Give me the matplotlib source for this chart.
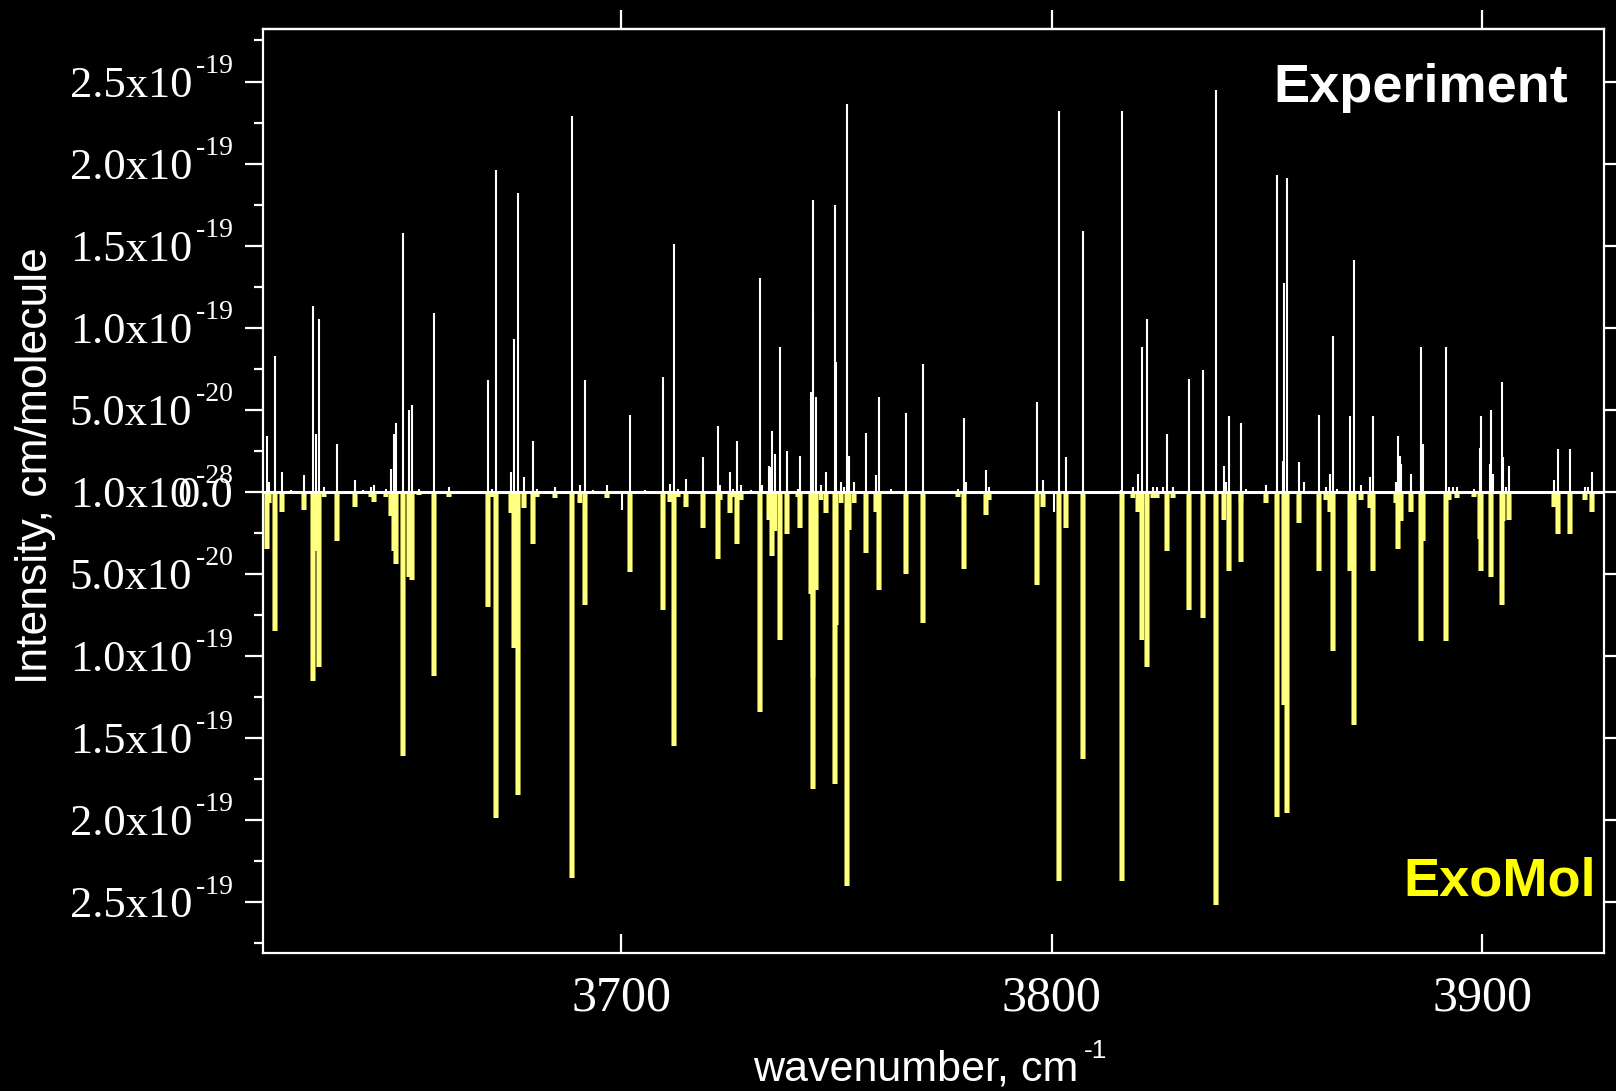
import matplotlib
matplotlib.use("Agg")
import matplotlib.pyplot as plt
import matplotlib.ticker as mticker
from matplotlib.transforms import blended_transform_factory, offset_copy
import numpy as np

# line positions (cm-1) and intensities (units of 1e-19 cm/molecule)
nu = [3617.7, 3618.0, 3619.6, 3621.2, 3623.2, 3626.3, 3628.4, 3629.1, 3629.7, 3630.9,
      3633.9, 3638.1, 3639.9, 3641.8, 3642.6, 3645.3, 3646.4, 3647.1, 3647.6, 3649.3,
      3650.6, 3651.4, 3652.9, 3656.4, 3660.0, 3668.9, 3670.0, 3670.8, 3674.3, 3675.0,
      3676.0, 3677.4, 3679.4, 3680.4, 3684.6, 3688.6, 3690.4, 3691.5, 3693.4, 3696.6,
      3700.1, 3701.9, 3705.5, 3709.6, 3711.2, 3712.3, 3713.1, 3714.9, 3719.0, 3722.4,
      3722.9, 3725.1, 3725.8, 3726.8, 3727.8, 3730.2, 3732.3, 3732.7, 3734.2, 3734.6,
      3735.0, 3735.7, 3736.9, 3738.5, 3740.9, 3741.5, 3744.0, 3744.4, 3744.6, 3745.1,
      3746.4, 3747.5, 3749.5, 3749.8, 3751.1, 3751.6, 3752.3, 3752.9, 3754.0, 3756.8,
      3759.2, 3759.9, 3762.6, 3766.0, 3770.1, 3778.2, 3779.6, 3780.1, 3784.7, 3785.5,
      3796.6, 3798.0, 3800.4, 3801.6, 3803.2, 3807.2, 3816.0, 3816.3, 3818.8, 3820.0,
      3820.9, 3822.0, 3823.4, 3824.4, 3825.8, 3826.8, 3828.2, 3831.9, 3835.2, 3838.1,
      3840.0, 3840.4, 3841.2, 3843.9, 3844.0, 3845.1, 3849.8, 3852.3, 3853.6, 3853.9,
      3854.7, 3857.4, 3858.7, 3862.0, 3863.6, 3864.6, 3865.4, 3866.2, 3869.2, 3870.2,
      3871.8, 3873.9, 3874.6, 3880.0, 3880.4, 3880.8, 3881.2, 3883.5, 3885.8, 3886.3,
      3891.5, 3892.3, 3893.3, 3894.2, 3898.1, 3899.4, 3899.7, 3901.7, 3902.1, 3902.5,
      3904.5, 3904.8, 3905.6, 3906.3, 3916.6, 3917.5, 3920.4, 3923.8, 3924.6, 3925.4]

experiment = [0.34, 0.06, 0.83, 0.12, 0.01, 0.10, 1.13, 0.35, 1.05, 0.03,
              0.29, 0.07, 0.01, 0.03, 0.04, 0.02, 0.14, 0.35, 0.42, 1.58,
              0.50, 0.53, 0.02, 1.09, 0.03, 0.68, 0.02, 1.96, 0.12, 0.93,
              1.82, 0.09, 0.31, 0.02, 0.03, 2.29, 0.04, 0.68, 0.01, 0.04,
              -0.11, 0.47, 0.01, 0.70, 0.05, 1.51, 0.02, 0.08, 0.21, 0.40,
              0.04, 0.12, 0.02, 0.31, 0.04, 0.01, 1.30, 0.04, 0.16, 0.15,
              0.37, 0.23, 0.88, 0.25, 0.02, 0.22, 0.61, 1.10, 1.78, 0.58,
              0.04, 0.12, 1.75, 0.79, 0.06, 0.03, 2.36, 0.22, 0.06, 0.36,
              0.10, 0.58, 0.02, 0.48, 0.78, 0.02, 0.45, 0.06, 0.13, 0.03,
              0.55, 0.07, -0.12, 2.32, 0.21, 1.59, 0.01, 2.32, 0.03, 0.11,
              0.88, 1.05, 0.03, 0.03, 0.03, 0.35, 0.03, 0.69, 0.74, 2.45,
              0.16, 0.06, 0.46, 0.05, 0.42, 0.02, 0.04, 1.93, 0.19, 1.27,
              1.91, 0.18, 0.06, 0.47, 0.03, 0.11, 0.95, 0.02, 0.46, 1.41,
              0.04, 0.09, 0.46, 0.06, 0.34, 0.22, 0.17, 0.11, 0.88, 0.29,
              0.88, 0.03, 0.03, 0.03, 0.02, 0.27, 0.46, 0.17, 0.50, 0.11,
              0.67, 0.21, 0.03, 0.16, 0.07, 0.26, 0.26, 0.03, 0.03, 0.12]

exomol = [0.35, 0.07, 0.85, 0.12, 0.00, 0.11, 1.15, 0.36, 1.07, 0.03,
          0.30, 0.09, 0.00, 0.03, 0.06, 0.03, 0.15, 0.36, 0.44, 1.61,
          0.52, 0.54, 0.02, 1.12, 0.03, 0.70, 0.03, 1.99, 0.13, 0.95,
          1.85, 0.10, 0.32, 0.03, 0.04, 2.35, 0.07, 0.69, 0.00, 0.04,
          0.00, 0.49, 0.00, 0.72, 0.06, 1.55, 0.03, 0.09, 0.22, 0.41,
          0.05, 0.13, 0.03, 0.32, 0.05, 0.00, 1.34, 0.00, 0.17, 0.00,
          0.39, 0.24, 0.90, 0.26, 0.03, 0.22, 0.62, 1.13, 1.81, 0.60,
          0.05, 0.13, 1.78, 0.81, 0.07, 0.00, 2.40, 0.23, 0.07, 0.37,
          0.12, 0.60, 0.00, 0.50, 0.80, 0.03, 0.47, 0.00, 0.14, 0.05,
          0.57, 0.09, 0.00, 2.37, 0.22, 1.63, 0.00, 2.37, 0.04, 0.12,
          0.90, 1.07, 0.04, 0.04, 0.00, 0.36, 0.04, 0.72, 0.77, 2.52,
          0.17, 0.00, 0.48, 0.06, 0.43, 0.00, 0.07, 1.98, 0.00, 1.30,
          1.96, 0.19, 0.00, 0.48, 0.05, 0.12, 0.97, 0.00, 0.48, 1.42,
          0.05, 0.10, 0.48, 0.07, 0.35, 0.00, 0.18, 0.12, 0.91, 0.30,
          0.91, 0.05, 0.00, 0.04, 0.03, 0.29, 0.48, 0.00, 0.52, 0.00,
          0.69, 0.18, 0.00, 0.17, 0.09, 0.26, 0.26, 0.05, 0.00, 0.12]

ytick_vals = [-2.5, -2.0, -1.5, -1.0, -0.5, 0.0, 0.5, 1.0, 1.5, 2.0, 2.5]
ytick_mant = ["2.5x10", "2.0x10", "1.5x10", "1.0x10", "5.0x10", "1.0x10",
              "5.0x10", "1.0x10", "1.5x10", "2.0x10", "2.5x10"]
ytick_exp = ["-19", "-19", "-19", "-19", "-20", "-28", "-20", "-19", "-19", "-19", "-19"]
xtick_vals = [3700, 3800, 3900]

SCALE = 1e-19
YELLOW_BAR = "#ffff80"
SERIF = "Liberation Serif"
SANS = "Liberation Sans"

nu = np.array(nu)
experiment = np.array(experiment) * SCALE
exomol = np.array(exomol) * SCALE

fig = plt.figure(figsize=(16.16, 10.91), dpi=100, facecolor="black")
W, H = 1616.0, 1091.0
ax = fig.add_axes([263 / W, 1 - 953 / H, (1604 - 263) / W, (953 - 29) / H])
ax.set_facecolor("black")

# ExoMol sticks point down, experiment sticks point up
ax.vlines(nu, -exomol, 0, color="#6e6e2a", lw=4.3, zorder=1)
ax.vlines(nu, -exomol, 0, color=YELLOW_BAR, lw=3.2, zorder=2)
ax.vlines(nu, 0, experiment, color="white", lw=1.5, zorder=3)
ax.axhline(0, color="white", lw=2.2, zorder=4)

ax.set_xlim(3616.7, 3928.3)
ax.set_ylim(-2.81 * SCALE, 2.82 * SCALE)

for sp in ax.spines.values():
    sp.set_color("white")
    sp.set_linewidth(1.6)

# y ticks: both sides outward, minor only on the left; labels drawn by hand
ax.set_yticks([v * SCALE for v in ytick_vals])
ax.yaxis.set_minor_locator(mticker.MultipleLocator(0.25 * SCALE))
ax.tick_params(axis="y", which="major", direction="out", length=13, width=1.6,
               colors="white", left=True, right=True, labelleft=False)
ax.tick_params(axis="y", which="minor", direction="out", length=6.5, width=1.6,
               colors="white", left=True, right=False)

ytrans = blended_transform_factory(fig.transFigure, ax.transData)
mant_tr = offset_copy(ytrans, fig=fig, y=-10.8, units="points")
sup_tr = offset_copy(ytrans, fig=fig, y=6.2, units="points")
for v, m, e in zip(ytick_vals, ytick_mant, ytick_exp):
    y = v * SCALE
    fig.text(192 / W, y, m, transform=mant_tr, ha="right", va="baseline",
             color="white", fontsize=32, fontfamily=SERIF)
    fig.text(196 / W, y, e, transform=sup_tr, ha="left", va="baseline",
             color="white", fontsize=20, fontfamily=SERIF)
# overlapping "0.0" at the zero tick
fig.text(233 / W, 0.0, "0.0", transform=mant_tr, ha="right", va="baseline",
         color="white", fontsize=32, fontfamily=SERIF)

# x axis: bottom ticks inward with labels, top ticks outward
ax.set_xticks(xtick_vals)
ax.set_xticklabels([str(v) for v in xtick_vals])
ax.tick_params(axis="x", which="major", direction="in", length=13.5, width=1.6,
               colors="white", labelsize=36, pad=16, top=False)
for lab in ax.get_xticklabels():
    lab.set_fontfamily(SERIF)
top = ax.secondary_xaxis("top")
top.set_xticks(xtick_vals)
top.tick_params(axis="x", direction="out", length=14, width=1.6, colors="white",
                labeltop=False)
top.spines["top"].set_color("white")
top.spines["top"].set_linewidth(1.6)

fig.text(36 / W, 1 - 466 / H, "Intensity, cm/molecule", rotation=90, ha="center",
         va="center", color="white", fontsize=32, fontfamily=SANS)
fig.text(753 / W, 1 - 1081 / H, "wavenumber, cm", ha="left", va="baseline",
         color="white", fontsize=31, fontfamily=SANS)
fig.text(1084 / W, 1 - 1058 / H, "-1", ha="left", va="baseline",
         color="white", fontsize=19, fontfamily=SANS)

fig.text(1568.6 / W, 1 - 88 / H, "Experiment", ha="right", va="center",
         color="white", fontsize=39, fontweight="bold", fontfamily=SANS)
fig.text(1596 / W, 1 - 882 / H, "ExoMol", ha="right", va="center",
         color="#ffff00", fontsize=39, fontweight="bold", fontfamily=SANS)

fig.savefig("out.png", dpi=100, facecolor="black")
